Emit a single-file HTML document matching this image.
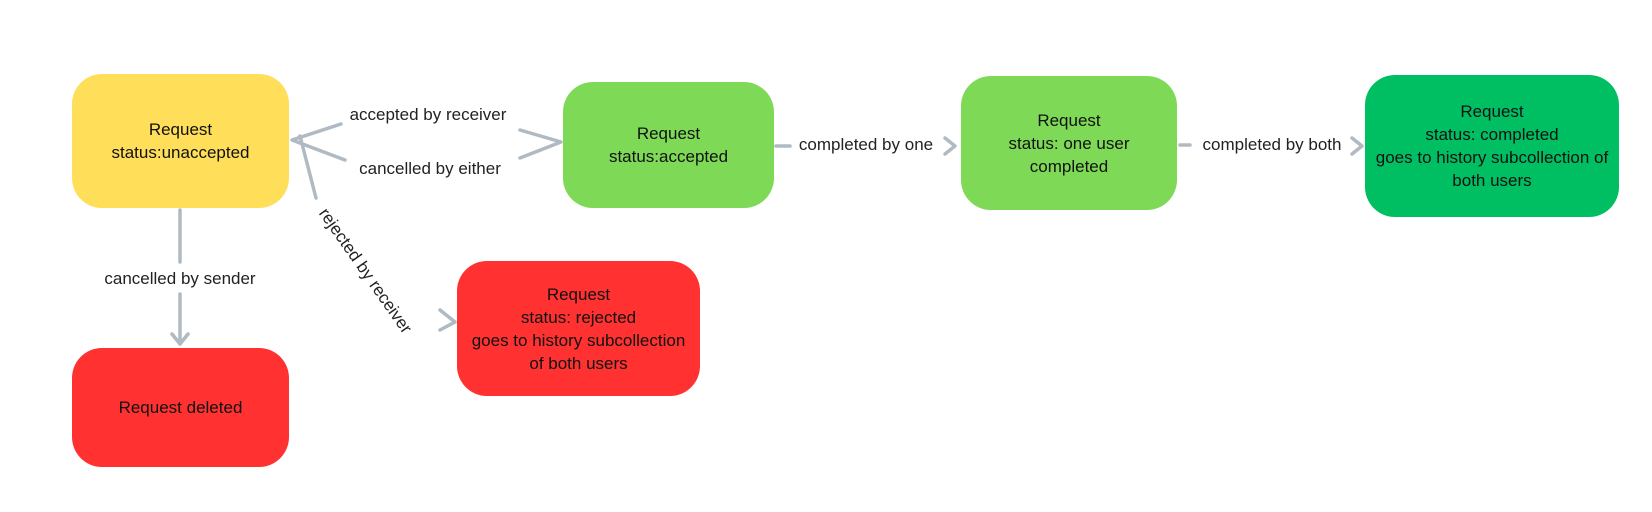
<!DOCTYPE html>
<html><head><meta charset="utf-8"><style>
body{margin:0;width:1652px;height:512px;background:#fff;position:relative;overflow:hidden;font-family:"Liberation Sans",sans-serif;}
.b{position:absolute;border-radius:30px;display:flex;align-items:center;justify-content:center;text-align:center;font-size:17px;line-height:23px;color:#111;}
.l{position:absolute;font-size:17px;color:#222;white-space:nowrap;background:#fff;transform:translateX(-50%);}
svg{position:absolute;left:0;top:0}
</style></head><body>
<svg width="1652" height="512">
<g stroke="#b0bac2" stroke-width="3.5" fill="none" stroke-linecap="round" stroke-linejoin="round">
<path d="M341,124 L292,140 L345,160"/>
<path d="M300,136 L316,198"/>
<path d="M520,130 L561,142 L520,158"/>
<path d="M180,210 L180,262"/>
<path d="M180,294 L180,344 M172,334 L180,344 L188,334"/>
<path d="M440,310 L455,322 L440,330"/>
<path d="M776,146 L790,146"/>
<path d="M945,138 L955,146 L945,154"/>
<path d="M1180,145 L1190,145"/>
<path d="M1352,138 L1362,146 L1352,154"/>
</g>
</svg>
<div class="b" style="left:72px;top:74px;width:217px;height:134px;background:#FFDE59">Request<br>status:unaccepted</div>
<div class="b" style="left:72px;top:348px;width:217px;height:119px;background:#FF3131">Request deleted</div>
<div class="b" style="left:563px;top:82px;width:211px;height:126px;background:#7ED957">Request<br>status:accepted</div>
<div class="b" style="left:457px;top:261px;width:243px;height:135px;background:#FF3131">Request<br>status: rejected<br>goes to history subcollection<br>of both users</div>
<div class="b" style="left:961px;top:76px;width:216px;height:134px;background:#7ED957">Request<br>status: one user<br>completed</div>
<div class="b" style="left:1365px;top:75px;width:254px;height:142px;background:#00BF63">Request<br>status: completed<br>goes to history subcollection of<br>both users</div>
<div class="l" style="left:428px;top:105px">accepted by receiver</div>
<div class="l" style="left:430px;top:159px">cancelled by either</div>
<div class="l" style="left:180px;top:269px">cancelled by sender</div>
<div class="l" style="left:866px;top:135px">completed by one</div>
<div class="l" style="left:1272px;top:135px">completed by both</div>
<div class="l" style="left:365px;top:261px;transform:translateX(-50%) rotate(55deg);background:none">rejected by receiver</div>
</body></html>
